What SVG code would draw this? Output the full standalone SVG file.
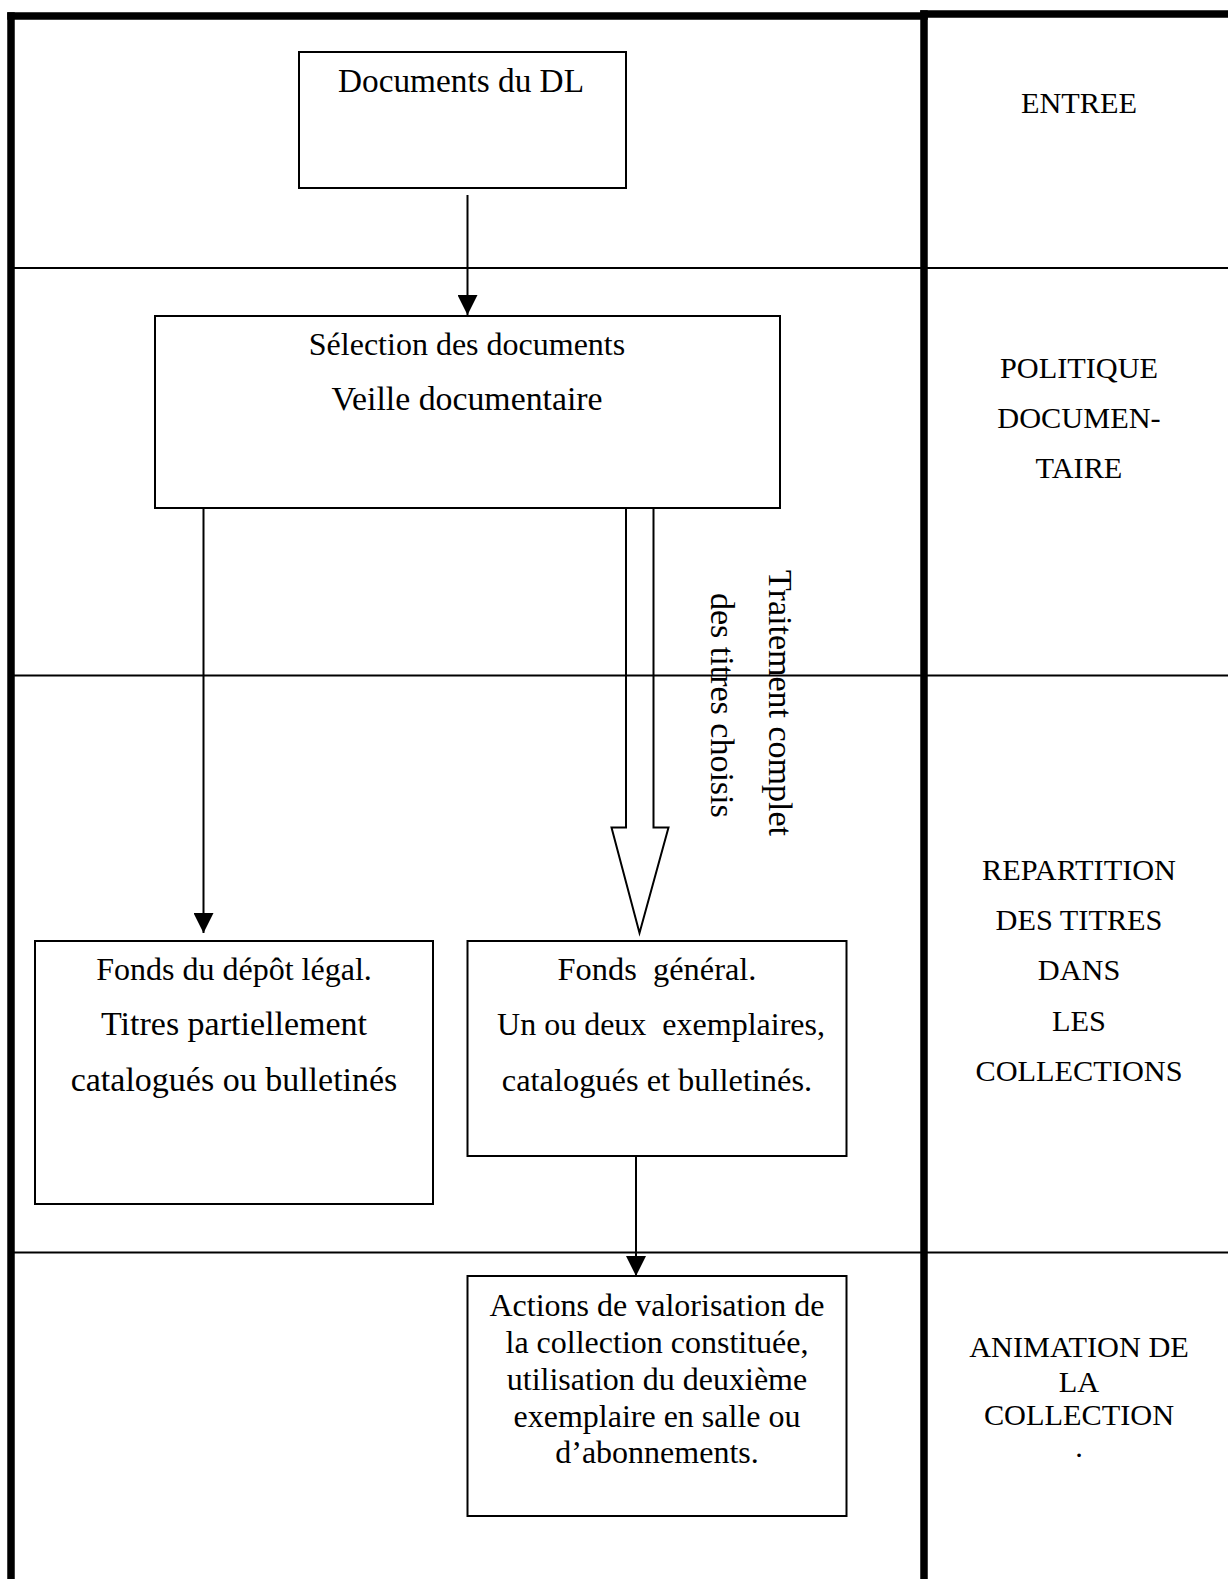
<svg xmlns="http://www.w3.org/2000/svg" width="1228" height="1579" viewBox="0 0 1228 1579">
<style>
  .frame { stroke: #000; stroke-width: 7.5; fill: none; stroke-linecap: square; }
  .sep { stroke: #000; stroke-width: 2; fill: none; }
  .box { stroke: #000; stroke-width: 2; fill: #fff; }
  .conn { stroke: #000; stroke-width: 2; fill: none; }
  text { font-family: "Liberation Serif", "Times New Roman", serif; fill: #000; text-anchor: middle; }
  .t33 { font-size: 33.3px; }
  .t34 { font-size: 34px; }
  .tg { font-size: 32.4px; }
  .t32 { font-size: 32px; }
  .lab { font-size: 30.3px; }
  .rot { font-size: 34px; text-anchor: start; }
</style>
<defs>
  <marker id="arrow" markerUnits="userSpaceOnUse" markerWidth="20" markerHeight="20" refX="20" refY="10" orient="auto">
    <path d="M0,0 L20,10 L0,20 z" fill="#000"/>
  </marker>
</defs>
<rect x="0" y="0" width="1228" height="1579" fill="#fff"/>

<g id="frame">
  <line class="frame" x1="11" y1="16" x2="11" y2="1585"/>
  <line class="frame" x1="11" y1="16" x2="924" y2="16"/>
  <line class="frame" x1="924" y1="14" x2="1232" y2="14"/>
  <line class="frame" x1="924" y1="14" x2="924" y2="1585"/>
  <line class="sep" x1="11" y1="268" x2="1228" y2="268"/>
  <line class="sep" x1="11" y1="675.5" x2="1228" y2="675.5"/>
  <line class="sep" x1="11" y1="1252.5" x2="1228" y2="1252.5"/>
</g>

<g id="labels">
  <text class="lab" x="1079" y="113">ENTREE</text>
  <text class="lab" x="1079" y="378">POLITIQUE</text>
  <text class="lab" x="1079" y="428">DOCUMEN-</text>
  <text class="lab" x="1079" y="478">TAIRE</text>
  <text class="lab" x="1079" y="880">REPARTITION</text>
  <text class="lab" x="1079" y="930">DES TITRES</text>
  <text class="lab" x="1079" y="980">DANS</text>
  <text class="lab" x="1079" y="1031">LES</text>
  <text class="lab" x="1079" y="1081">COLLECTIONS</text>
  <text class="lab" x="1079" y="1357">ANIMATION DE</text>
  <text class="lab" x="1079" y="1392">LA</text>
  <text class="lab" x="1079" y="1425">COLLECTION</text>
  <text class="lab" x="1079" y="1457">.</text>
</g>

<g id="connectors">
  <line class="conn" x1="467.5" y1="195" x2="467.5" y2="315" marker-end="url(#arrow)"/>
  <line class="conn" x1="203.5" y1="508" x2="203.5" y2="933" marker-end="url(#arrow)"/>
  <line class="conn" x1="636" y1="1156" x2="636" y2="1276" marker-end="url(#arrow)"/>
  <path class="conn" d="M626,507 V827.5 H611.5 L639.5,933 L668.5,827.5 H653.5 V507"/>
  <text class="rot" transform="translate(769,570) rotate(90)">Traitement complet</text>
  <text class="rot" transform="translate(711,593) rotate(90)">des titres choisis</text>
</g>

<g id="node-documents">
  <rect class="box" x="299" y="52" width="327" height="136"/>
  <text class="t33" x="461" y="92">Documents du DL</text>
</g>

<g id="node-selection">
  <rect class="box" x="155" y="316" width="625" height="192"/>
  <text x="467" y="355" style="font-size:32px">Sélection des documents</text>
  <text x="467" y="410" style="font-size:33.8px">Veille documentaire</text>
</g>

<g id="node-depot">
  <rect class="box" x="35" y="941" width="398" height="263"/>
  <text x="234" y="980" style="font-size:32px">Fonds du dépôt légal.</text>
  <text class="t34" x="234" y="1035">Titres partiellement</text>
  <text class="t34" x="234" y="1091">catalogués ou bulletinés</text>
</g>

<g id="node-general">
  <rect class="box" x="467.5" y="941" width="379" height="215"/>
  <text class="tg" x="657" y="980" xml:space="preserve">Fonds  général.</text>
  <text x="661" y="1035" style="font-size:32px" xml:space="preserve">Un ou deux  exemplaires,</text>
  <text class="tg" x="657" y="1091">catalogués et bulletinés.</text>
</g>

<g id="node-actions">
  <rect class="box" x="467.5" y="1276" width="379" height="240"/>
  <text class="t32" x="657" y="1316">Actions de valorisation de</text>
  <text class="t32" x="657" y="1353">la collection constituée,</text>
  <text class="t32" x="657" y="1390">utilisation du deuxième</text>
  <text class="t32" x="657" y="1427">exemplaire en salle ou</text>
  <text class="t32" x="657" y="1463">d’abonnements.</text>
</g>
</svg>
